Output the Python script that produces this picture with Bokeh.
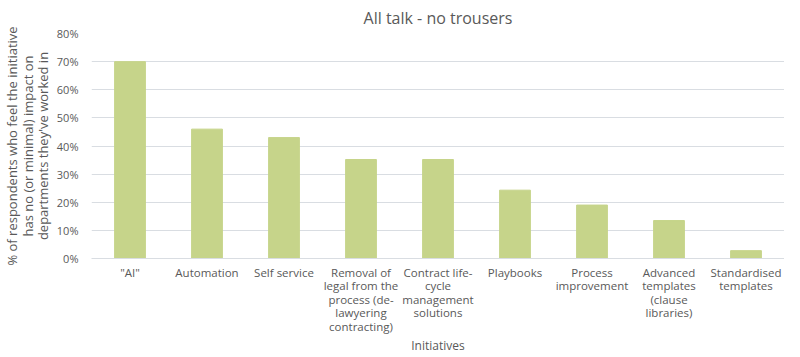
from bokeh.plotting import figure
from bokeh.models import ColumnDataSource, NumeralTickFormatter, FactorRange, Range1d
from bokeh.embed import file_html
from bokeh.resources import INLINE

categories = ['"AI"', "Automation", "Self service",
              "Removal of\nlegal from the\nprocess (de-\nlawyering\ncontracting)",
              "Contract life-\ncycle\nmanagement\nsolutions",
              "Playbooks", "Process\nimprovement",
              "Advanced\ntemplates\n(clause\nlibraries)",
              "Standardised\ntemplates"]
values = [0.70, 0.46, 0.43, 0.352, 0.352, 0.243, 0.19, 0.135, 0.028]
y_ticks = [0, 0.1, 0.2, 0.3, 0.4, 0.5, 0.6, 0.7, 0.8]

FONT = "Open Sans"
TXT = "#595959"
GRID = "#d9dde2"
BAR = "#c6d48a"

src = ColumnDataSource(dict(x=categories, top=values))

p = figure(x_range=FactorRange(*categories, range_padding=0),
           y_range=Range1d(0, 0.8),
           width=784, frame_height=225, output_backend="svg", toolbar_location=None,
           title="All talk - no trousers",
           min_border_left=0, min_border_right=0, min_border_top=0, min_border_bottom=0)

p.vbar(x="x", top="top", width=0.4, source=src, color=BAR, line_color=BAR)

p.title.align = "center"
p.title.text_font = FONT
p.title.text_font_size = "16px"
p.title.text_font_style = "normal"
p.title.text_color = TXT
p.title.standoff = 9

p.outline_line_color = None
p.background_fill_color = "white"

p.xgrid.grid_line_color = None
p.ygrid.grid_line_color = GRID
p.ygrid.ticker = y_ticks

p.yaxis.ticker = y_ticks
p.yaxis.formatter = NumeralTickFormatter(format="0%")
p.yaxis.axis_line_color = None
p.yaxis.major_tick_line_color = None
p.yaxis.minor_tick_line_color = None
p.yaxis.major_label_text_font = FONT
p.yaxis.major_label_text_font_size = "11px"
p.yaxis.major_label_text_color = TXT
p.yaxis.major_label_standoff = 7
p.yaxis.axis_label = "% of respondents who feel the initiative\nhas no (or minimal) impact on\ndepartments they've worked in"
p.yaxis.axis_label_text_font = FONT
p.yaxis.axis_label_text_font_size = "13px"
p.yaxis.axis_label_text_font_style = "normal"
p.yaxis.axis_label_text_color = TXT
p.yaxis.axis_label_text_line_height = 0.85
p.yaxis.axis_label_standoff = 2

p.xaxis.axis_line_color = GRID
p.xaxis.major_tick_line_color = None
p.xaxis.minor_tick_line_color = None
p.xaxis.major_label_text_font = FONT
p.xaxis.major_label_text_font_size = "11.5px"
p.xaxis.major_label_text_color = TXT
p.xaxis.major_label_text_line_height = 0.9
p.xaxis.major_label_standoff = 0
p.xaxis.axis_label = "Initiatives"
p.xaxis.axis_label_text_font = FONT
p.xaxis.axis_label_text_font_size = "12px"
p.xaxis.axis_label_text_font_style = "normal"
p.xaxis.axis_label_text_color = TXT
p.xaxis.axis_label_standoff = 0

open("out.html", "w").write(file_html(p, INLINE))
